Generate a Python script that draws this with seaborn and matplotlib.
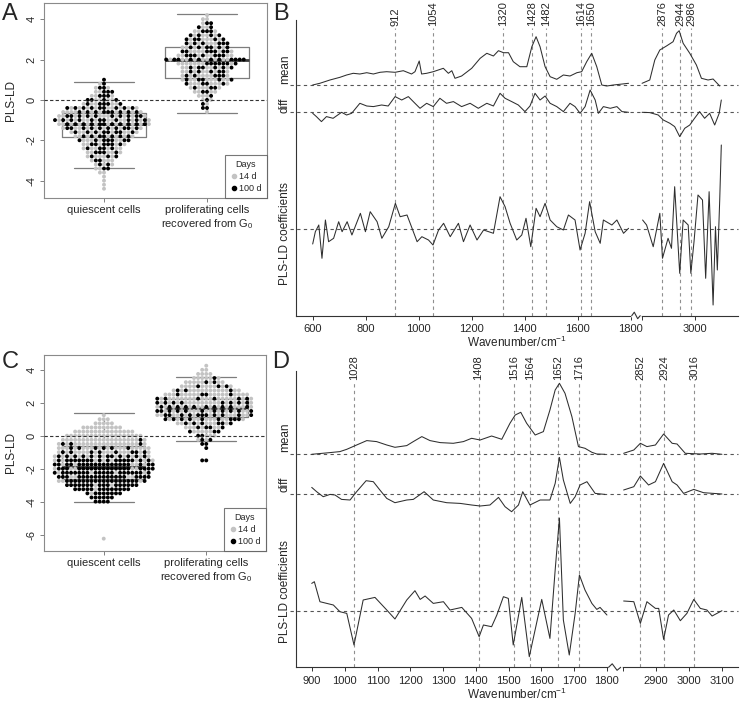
import numpy as np
import pandas as pd
import matplotlib
matplotlib.use("Agg")
import matplotlib.pyplot as plt
from matplotlib.lines import Line2D
import seaborn as sns

sns.set_style("white")
plt.rcParams["font.family"] = ["Liberation Sans", "DejaVu Sans"]
plt.rcParams["font.size"] = 8
plt.rcParams["axes.unicode_minus"] = False
plt.rcParams["mathtext.fontset"] = "custom"
plt.rcParams["mathtext.rm"] = "Liberation Sans"

# ---------------- score data (swarm rows: level + number of cells) ----------------
groups = ["quiescent cells", "proliferating cells\nrecovered from G$_\\mathrm{0}$"]
days = ["14 d", "100 d"]
day_colors = {"14 d": "#c3c3c3", "100 d": "#000000"}

a_q_levels = [1.0, 0.8, 0.6, 0.4, 0.2, 0.0, -0.2, -0.4, -0.6, -0.8, -1.0, -1.2, -1.4, -1.6,
              -1.8, -2.0, -2.2, -2.4, -2.6, -2.8, -3.0, -3.2, -3.4, -3.6, -3.8, -4.0, -4.2, -4.4]
a_q_gray = [0, 1, 2, 2, 3, 4, 5, 9, 11, 12, 13, 12, 10, 9, 8, 6, 5, 6, 5, 5, 4, 3, 2, 2, 1, 1, 1, 1]
a_q_black = [1, 1, 2, 3, 3, 4, 5, 9, 9, 10, 11, 11, 10, 8, 7, 7, 6, 4, 4, 3, 2, 2, 2, 0, 0, 0, 0, 0]

a_p_levels = [4.2, 4.0, 3.8, 3.6, 3.4, 3.2, 3.0, 2.8, 2.6, 2.4, 2.2, 2.0, 1.8, 1.6, 1.4, 1.2,
              1.0, 0.8, 0.6, 0.4, 0.2, 0.0, -0.2, -0.4, -0.6]
a_p_gray = [1, 2, 1, 2, 3, 4, 5, 5, 6, 6, 7, 9, 8, 7, 7, 7, 8, 7, 5, 4, 3, 2, 1, 0, 1]
a_p_black = [0, 0, 2, 2, 3, 4, 5, 6, 6, 7, 7, 11, 7, 6, 5, 5, 5, 4, 3, 2, 1, 1, 1, 2, 0]

c_q_levels = [1.25, 1.0, 0.75, 0.5, 0.25, 0.0, -0.25, -0.5, -0.75, -1.0, -1.25, -1.5, -1.75,
              -2.0, -2.25, -2.5, -2.75, -3.0, -3.25, -3.5, -3.75, -4.0, -6.25]
c_q_gray = [1, 3, 5, 10, 15, 19, 20, 19, 17, 15, 12, 8, 5, 5, 4, 4, 3, 2, 1, 1, 0, 0, 1]
c_q_black = [0, 0, 0, 0, 0, 0, 1, 3, 6, 8, 12, 17, 20, 20, 20, 19, 19, 16, 13, 8, 6, 4, 0]

c_p_levels = [4.25, 4.0, 3.75, 3.5, 3.25, 3.0, 2.75, 2.5, 2.25, 2.0, 1.75, 1.5, 1.25, 1.0,
              0.75, 0.5, 0.25, 0.0, -0.25, -0.5, -0.75, -1.5]
c_p_gray = [1, 2, 4, 6, 8, 10, 14, 17, 18, 16, 14, 13, 13, 11, 8, 6, 5, 3, 2, 0, 0, 0]
c_p_black = [0, 0, 0, 1, 2, 3, 3, 4, 6, 8, 10, 11, 11, 9, 6, 4, 3, 2, 2, 2, 1, 2]

# box statistics: lower whisker, Q1, median, Q3, upper whisker
a_box_q = [-3.39, -1.82, -1.2, -0.66, 0.91]
a_box_p = [-0.66, 1.07, 1.98, 2.61, 4.26]
c_box_q = [-4.0, -2.6, -1.9, -0.6, 1.35]
c_box_p = [-0.3, 1.15, 1.7, 2.25, 3.58]

# ---------------- spectra (arbitrary units), panel B ----------------
b_mean_wn = [600, 627, 665, 703, 728, 753, 778, 804, 829, 854, 879, 911, 942, 973, 986, 1002,
             1011, 1030, 1055, 1093, 1112, 1125, 1137, 1162, 1200, 1232, 1257, 1282, 1301, 1320,
             1339, 1357, 1382, 1408, 1427, 1443, 1458, 1477, 1496, 1521, 1546, 1571, 1597, 1615,
             1634, 1653, 1672, 1691, 1710, 1735, 1792,
             2800, 2829, 2848, 2867, 2892, 2917, 2930, 2940, 2955, 2980, 3005, 3024, 3049, 3068, 3093]
b_mean_val = [0, 1.7, 5, 7.7, 10, 11.7, 11, 12.3, 11, 12.7, 13.3, 12.7, 14.3, 11, 13.3, 24,
              11, 11.7, 13.3, 16.7, 11.7, 14.3, 6.7, 9, 16.7, 26.7, 31.7, 29, 34.3, 32.3,
              32.3, 23.3, 18.3, 18.3, 38.3, 48.3, 38.3, 18.3, 8.3, 5.7, 10, 9, 12.3, 13.3,
              23.3, 31.7, 18.3, 0, -1, 0, 1.7,
              1.7, 5, 25, 35, 39, 43.3, 51.7, 54.3, 41.7, 31.7, 20, 6.7, 5, 6, -1]

b_diff_wn = [600, 614, 633, 652, 677, 709, 728, 747, 778, 804, 829, 860, 885, 911, 936, 961,
             986, 1005, 1030, 1055, 1080, 1105, 1131, 1162, 1194, 1225, 1257, 1282, 1307, 1326,
             1351, 1376, 1401, 1420, 1439, 1458, 1477, 1496, 1521, 1546, 1571, 1590, 1609, 1628,
             1647, 1666, 1678, 1697, 1723, 1748, 1767, 1792,
             2800, 2829, 2861, 2880, 2905, 2923, 2942, 2961, 2980, 2998, 3017, 3036, 3055, 3074,
             3091, 3099]
b_diff_val = [-1, -4.3, -9.3, -4.3, -6, 0, -2.7, -1, 9, 6.3, 5.7, 7.3, 6.3, 15.7, 12.3, 15.7,
              9, 4, 9, 5.7, 14, 9, 10.7, 5.7, 9, 4, 9, 6.3, 19, 14,
              10.7, 7.3, 0.7, 6.3, 19, 12.3, 16.3, 9, 5.7, 0.7, 9, 5.7, -1, 5.7,
              22.3, 12.3, -1, 5.7, 4, 5.7, 0.7, 0,
              0, -0.3, -2.7, -7.7, -11, -14.3, -24.3, -16, -12.7, -6, 0.7, -6, -1, -12.7,
              -1, 12.3]

b_coef_wn = [600, 610, 623, 635, 648, 660, 679, 698, 711, 730, 748, 780, 799, 817, 843, 861,
             887, 912, 930, 956, 975, 994, 1012, 1037, 1054, 1075, 1094, 1119, 1150, 1169,
             1194, 1220, 1245, 1282, 1307, 1326, 1345, 1370, 1389, 1405, 1423, 1443, 1458, 1477,
             1496, 1521, 1546, 1565, 1590, 1609, 1628, 1645, 1666, 1685, 1697, 1729, 1748, 1773,
             1792,
             2802, 2817, 2842, 2867, 2877, 2898, 2911, 2923, 2942, 2955, 2974, 2984, 2996, 3011,
             3028, 3040, 3053, 3068, 3077, 3084, 3093, 3099]
b_coef_val = [-15, -2.7, 4, -29.3, 9, -12.7, -9.3, 7.3, -2.7, 7.3, -6, 15.7, -2.7, 17.3, 7.3, -9.3,
              2.3, 25.7, 12.3, 14, 0.7, -12.7, -7.7, -11, -16, -1, 5.7, -7.7, 5.7, -12.7,
              4, -11, -1, -4.3, 32.3, 22.3, 5.7, -11, -6, 10.7, -17.7, 20.7, 12.3, 25.7,
              9, 2.3, -1, 14, 9, -21, -4.3, 27.3, -2.7, -14.3, 9, 4, 9, -4.3,
              0.7,
              9, 4, -17.7, 15.7, -29.3, -9.3, -19.3, 42.3, -44.3, 9, 4, -44.3, -12.7, 34,
              29, -49.3, 37.3, -76, 2.3, -41, 29, 84]

b_peaks = [912, 1054, 1320, 1428, 1482, 1614, 1650, 2876, 2944, 2986]
b_ticks = [600, 800, 1000, 1200, 1400, 1600, 1800, 2800, 3000]

# ---------------- spectra (arbitrary units), panel D ----------------
d_mean_wn = [899, 955, 985, 1006, 1036, 1067, 1097, 1128, 1153, 1189, 1209, 1235, 1260, 1291,
             1331, 1362, 1387, 1413, 1448, 1479, 1504, 1520, 1537, 1555, 1581, 1606, 1626, 1642,
             1655, 1672, 1693, 1713, 1733, 1754, 1769, 1794,
             2801, 2832, 2852, 2872, 2898, 2923, 2949, 2964, 2989, 3035, 3071, 3101]
d_mean_val = [0, 1.7, 2.7, 5, 9.3, 13.7, 12.7, 9.3, 7, 8.7, 12.7, 17.7, 13.7, 11.7,
              11, 12.7, 16, 14.3, 18.3, 15, 31, 39.3, 42, 31, 19.3, 22.7, 44.3, 64.3,
              71, 61, 37.7, 7.7, 6, 2, 0.3, 0,
              1, 4.3, 11, 7.7, 9.3, 20.3, 11, 10.3, 1, 0.3, 1, 0]

d_diff_wn = [899, 914, 934, 955, 970, 990, 1016, 1036, 1065, 1087, 1107, 1128, 1153, 1189,
             1209, 1242, 1270, 1311, 1352, 1387, 1413, 1443, 1469, 1489, 1509, 1530, 1543, 1565,
             1596, 1626, 1642, 1655, 1667, 1688, 1703, 1718, 1739, 1764, 1794,
             2801, 2832, 2852, 2877, 2898, 2923, 2949, 2964, 2984, 3015, 3045, 3101]
d_diff_val = [6.3, 2, -3, -0.7, -1.3, -5.7, -6.3, 2, 13, 12, 3.7, -4.7, -9, -6.3,
              -5.7, 2, -6.3, -9, -9.7, -11.3, -12.3, -11.3, -3.7, -13, -18, -11.3, 2, -11.3,
              -6.3, -6.3, 10.3, 36.3, 13.7, -9.7, -3, 8.7, 12, 0.3, -0.7,
              3.7, 7, 17.7, 8.7, 12, 30.3, 12, 8.7, 0.3, 4.3, 1, -0.3]

d_coef_wn = [899, 907, 924, 945, 965, 985, 1006, 1028, 1056, 1092, 1128, 1153, 1189, 1214,
             1230, 1245, 1270, 1301, 1321, 1357, 1387, 1410, 1423, 1448, 1464, 1484, 1499, 1514,
             1540, 1563, 1601, 1626, 1642, 1655, 1667, 1685, 1703, 1716, 1733, 1754, 1769, 1779,
             1800,
             2801, 2832, 2852, 2872, 2898, 2908, 2923, 2938, 2954, 2974, 2994, 3015, 3035, 3055,
             3071, 3101]
d_coef_val = [27.3, 29, 9, 7.3, 5.7, -1, -2.7, -34.3, 10.7, 13.3, 0.7, -8.3, 10.7, 20,
              11.3, 14.7, 7.3, 9, 0.7, 3.3, -7.7, -26, -14.3, -16, -4.3, 14, 12.3, -34.3,
              13.3, -46, 11.3, -27.7, 40.7, 92.7, -9.3, -44.3, -2.7, 35.7, 20.7, 7.3, 1.3, 3.3,
              -4.3,
              9.7, 9, -12.7, 9, 2.3, 2.3, -28.7, -4.3, 0.7, -10, -2.7, 11.3, 2.3, 0.7,
              -5.3, 0]

d_peaks = [1028, 1408, 1516, 1564, 1652, 1716, 2852, 2924, 3016]
d_ticks = [900, 1000, 1100, 1200, 1300, 1400, 1500, 1600, 1700, 1800, 2800, 2900, 3000, 3100]

# ---------------- layout helpers (pixel boxes of the 740x706 canvas) ----------------
W, H = 740, 706
fig = plt.figure(figsize=(W / 100, H / 100), dpi=100)
group_pos = [0.0, 0.8]   # numeric x of the two groups (lets each swarm spread wider than the box)


def px_box(left, top, right, bottom):
    return [left / W, 1 - bottom / H, (right - left) / W, (bottom - top) / H]


def swarm_frame(parts):
    # cells of one row are listed in pairs (2 grey, 2 black, ...) so that the
    # swarm, which fills right/left alternately, mixes both colours on both sides
    recs = []
    for grp, levels, n_gray, n_black in parts:
        for lv, g, b in zip(levels, n_gray, n_black):
            while g > 0 or b > 0:
                for _ in range(2):
                    if g > 0:
                        recs.append((grp, "14 d", lv))
                        g -= 1
                for _ in range(2):
                    if b > 0:
                        recs.append((grp, "100 d", lv))
                        b -= 1
    return pd.DataFrame(recs, columns=["group", "day", "score"])


def score_panel(ax, df, boxes, ylim, yticks, dot):
    for grp, pos, stats in zip(groups, group_pos, boxes):
        box_df = pd.DataFrame({"pos": pos, "score": stats})
        sns.boxplot(data=box_df, x="pos", y="score", orient="x", native_scale=True,
                    whis=(0, 100), width=0.645, capwidths=0.47,
                    fill=False, color="#7d7d7d", linewidth=0.9, showfliers=False,
                    medianprops=dict(color="#3a3a3a", linewidth=2),
                    whiskerprops=dict(linestyle=(0, (3, 3))), ax=ax)
        sub = df[df["group"] == grp].assign(pos=pos)
        sns.swarmplot(data=sub, x="pos", y="score", hue="day", orient="x", native_scale=True,
                      hue_order=days, palette=day_colors, size=dot, linewidth=0,
                      legend=False, zorder=3, ax=ax)
    ax.axhline(0, color="#333333", lw=0.8, ls=(0, (3, 2)), zorder=4)
    ax.set_xticks(group_pos, groups)
    ax.set_xlim(-0.466, 1.266)
    ax.set_ylim(*ylim)
    ax.set_yticks(yticks)
    ax.set_xlabel("")
    ax.set_ylabel("PLS-LD", fontsize=8.5)
    ax.yaxis.set_label_coords(-0.122, 0.5)
    ax.tick_params(bottom=True, left=True, direction="out", length=3, width=0.7,
                   color="#808080", labelsize=8, pad=2)
    ax.tick_params(axis="y", labelrotation=90, pad=2.5)
    for lab in ax.get_yticklabels():
        lab.set_va("center")
    for s in ax.spines.values():
        s.set_color("#8a8a8a")
        s.set_linewidth(0.8)
    handles = [Line2D([], [], marker="o", ls="", color=day_colors[d], markersize=3) for d in days]
    leg = ax.legend(handles, days, title="Days", loc="lower right", borderaxespad=0,
                    fontsize=6.5, title_fontsize=6.5, fancybox=False, edgecolor="#555555",
                    handletextpad=0.1, handlelength=1.0, borderpad=0.55, labelspacing=0.35)
    leg.get_frame().set_linewidth(0.8)


def trace_frame(name, wn, vals, base, gap):
    wn = np.asarray(wn, float)
    hi = wn > 2000
    return pd.DataFrame({"x": np.where(hi, wn - 1000 + gap, wn),
                         "y": base + np.asarray(vals, float),
                         "unit": [f"{name}-{int(h)}" for h in hi]})


def spectra_panel(ax, traces, bases, gap, xlim, height, peaks, line_top, ticks, zig):
    df = pd.concat([trace_frame(n, w, v, b, gap) for (n, w, v), b in zip(traces, bases)])
    for b in bases:
        ax.axhline(b, xmin=-0.014, color="#555555", lw=0.8, ls=(0, (3, 3)),
                   clip_on=False, zorder=1)
    pk = np.asarray(peaks, float)
    pk_x = np.where(pk > 2000, pk - 1000 + gap, pk)
    ax.vlines(pk_x, 0, line_top, colors="#8f8f8f", linestyles=(0, (3, 3)), lw=0.8, zorder=1)
    for p, x in zip(peaks, pk_x):
        ax.text(x, line_top + 1.5, str(p), rotation=90, ha="center", va="bottom", fontsize=8)
    sns.lineplot(data=df, x="x", y="y", units="unit", estimator=None, sort=False,
                 color="#2e2e2e", linewidth=0.75, ax=ax, zorder=2)
    tk = np.asarray(ticks, float)
    ax.set_xticks(np.where(tk > 2000, tk - 1000 + gap, tk),
                  ["" if t == 2800 else str(t) for t in ticks])
    ax.set_xlim(*xlim)
    ax.set_ylim(0, height)
    ax.set_yticks([])
    ax.set_ylabel("")
    ax.set_xlabel("Wavenumber/cm$^{\\mathrm{-1}}$", fontsize=8.5, labelpad=0.5)
    sns.despine(ax=ax)
    for s in ("left", "bottom"):
        ax.spines[s].set_color("#333333")
        ax.spines[s].set_linewidth(0.8)
    ax.tick_params(bottom=True, direction="out", length=3, width=0.7, color="#333333",
                   labelsize=8, pad=3)
    z0, z1 = zig
    zx = [z0, z0 + 0.3 * (z1 - z0), z0 + 0.7 * (z1 - z0), z1]
    ax.plot([z0, z1], [0, 0], color="white", lw=2.0, clip_on=False, zorder=5)
    ax.plot(zx, [0, 3.5, -3, 0], color="#333333", lw=0.8, clip_on=False, zorder=6)


# ---------------- panels ----------------
ax_a = fig.add_axes(px_box(44, 3, 267, 198))
ax_b = fig.add_axes(px_box(296, 20, 738, 315.7))
ax_c = fig.add_axes(px_box(44, 355, 266, 551))
ax_d = fig.add_axes(px_box(296, 370.7, 738, 667.3))

df_a = swarm_frame([(groups[0], a_q_levels, a_q_gray, a_q_black),
                    (groups[1], a_p_levels, a_p_gray, a_p_black)])
score_panel(ax_a, df_a, [a_box_q, a_box_p], (-4.86, 4.8), [-4, -2, 0, 2, 4], 2.8)

df_c = swarm_frame([(groups[0], c_q_levels, c_q_gray, c_q_black),
                    (groups[1], c_p_levels, c_p_gray, c_p_black)])
score_panel(ax_c, df_c, [c_box_q, c_box_p], (-7.0, 4.9), [-6, -4, -2, 0, 2, 4], 2.8)

spectra_panel(ax_b,
              [("mean", b_mean_wn, b_mean_val), ("diff", b_diff_wn, b_diff_val),
               ("coef", b_coef_wn, b_coef_val)],
              [230.7, 203.4, 86.7], 43, (537, 2205), 295.7, b_peaks, 287.7, b_ticks,
              (1804, 1836))
spectra_panel(ax_d,
              [("mean", d_mean_wn, d_mean_val), ("diff", d_diff_wn, d_diff_val),
               ("coef", d_coef_wn, d_coef_val)],
              [213.0, 173.6, 56.6], 50, (851, 2200), 296.6, d_peaks, 285.6, d_ticks,
              (1805, 1842))

# row labels of the spectra panels
for txt, y, va in [("mean", 84, "bottom"), ("diff", 113, "bottom"),
                   ("PLS-LD coefficients", 234, "center"),
                   ("mean", 452, "bottom"), ("diff", 492, "bottom"),
                   ("PLS-LD coefficients", 592, "center")]:
    fig.text(285 / W, 1 - y / H, txt, rotation=90, ha="center", va=va, fontsize=8.5)

# panel letters
for letter, x, y in [("A", 10, 14), ("B", 281, 14), ("C", 10, 362), ("D", 281, 362)]:
    fig.text(x / W, 1 - y / H, letter, ha="center", va="center", fontsize=17)

fig.savefig("out.png", dpi=100)
